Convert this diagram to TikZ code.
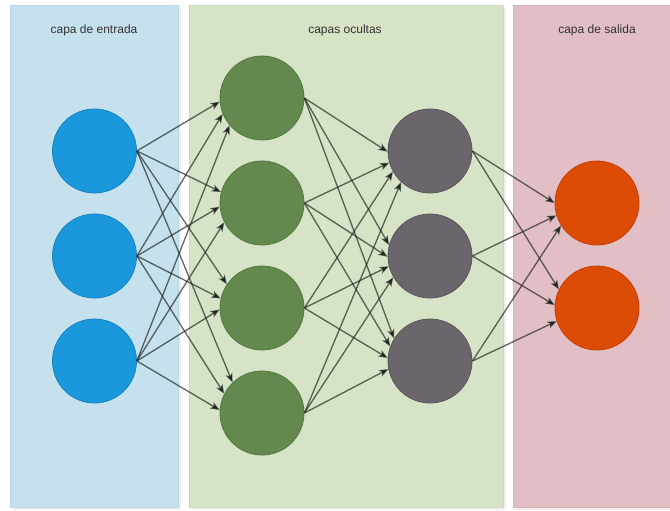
\documentclass[tikz,border=0pt]{standalone}
\usepackage{fontspec}
\setmainfont{Liberation Sans}
\usetikzlibrary{arrows.meta}
\definecolor{bluebg}{RGB}{198,225,238}
\definecolor{bluebd}{RGB}{185,214,230}
\definecolor{greenbg}{RGB}{214,227,199}
\definecolor{greenbd}{RGB}{200,218,185}
\definecolor{pinkbg}{RGB}{225,191,197}
\definecolor{pinkbd}{RGB}{214,178,185}
\definecolor{inblue}{RGB}{27,152,219}
\definecolor{inbluebd}{RGB}{22,132,192}
\definecolor{hgreen}{RGB}{99,137,78}
\definecolor{hgreenbd}{RGB}{84,120,64}
\definecolor{hgray}{RGB}{107,102,107}
\definecolor{hgraybd}{RGB}{90,86,90}
\definecolor{outor}{RGB}{221,76,5}
\definecolor{outorbd}{RGB}{196,62,8}
\definecolor{edgecol}{RGB}{30,36,30}
\definecolor{txt}{RGB}{51,51,51}
\begin{document}
\begin{tikzpicture}[x=0.75pt,y=-0.75pt,
  panel/.style={line width=0.6pt},
  neuron/.style={circle,minimum size=63pt,inner sep=0pt,line width=0.6pt},
  inneuron/.style={neuron,fill=inblue,draw=inbluebd},
  h1neuron/.style={neuron,fill=hgreen,draw=hgreenbd},
  h2neuron/.style={neuron,fill=hgray,draw=hgraybd},
  outneuron/.style={neuron,fill=outor,draw=outorbd},
  edge/.style={draw=edgecol,draw opacity=0.68,line width=1pt,
    -{Stealth[length=7pt,width=5.5pt,inset=1.8pt,fill=edgecol]}},
  title/.style={font=\fontsize{9pt}{10pt}\selectfont,text=txt}]
\useasboundingbox (0,0) rectangle (670,510);
\fill[white] (0,0) rectangle (670,510);
% shadows
\fill[black,opacity=0.06] (12,7) rectangle (181,510);
\fill[black,opacity=0.06] (191,7) rectangle (506,510);
\fill[black,opacity=0.06] (515,7) rectangle (670,510);
% panels
\filldraw[panel,fill=bluebg,draw=bluebd] (10,5) rectangle (178.5,507);
\filldraw[panel,fill=greenbg,draw=greenbd] (189,5) rectangle (503,507);
\filldraw[panel,fill=pinkbg,draw=pinkbd] (513,5) rectangle (672,507);
% titles
\node[title] (t1) at (94,30) {capa de entrada};
\node[title] (t2) at (345,30) {capas ocultas};
\node[title] (t3) at (597,30) {capa de salida};
% neurons
\node[inneuron] (i1) at (94.5,151) {};
\node[inneuron] (i2) at (94.5,256) {};
\node[inneuron] (i3) at (94.5,361) {};
\node[h1neuron] (h1) at (262,98) {};
\node[h1neuron] (h2) at (262,203) {};
\node[h1neuron] (h3) at (262,308) {};
\node[h1neuron] (h4) at (262,413) {};
\node[h2neuron] (g1) at (430,151) {};
\node[h2neuron] (g2) at (430,256) {};
\node[h2neuron] (g3) at (430,361) {};
\node[outneuron] (o1) at (597,203) {};
\node[outneuron] (o2) at (597,308) {};
% input -> hidden 1
\draw[edge] (i1.east) -- (h1.185);
\draw[edge] (i2.east) -- (h1.202);
\draw[edge] (i3.east) -- (h1.220);
\draw[edge] (i1.east) -- (h2.165);
\draw[edge] (i2.east) -- (h2.185);
\draw[edge] (i3.east) -- (h2.207);
\draw[edge] (i1.east) -- (h3.146);
\draw[edge] (i2.east) -- (h3.167);
\draw[edge] (i3.east) -- (h3.182);
\draw[edge] (i1.east) -- (h4.134);
\draw[edge] (i2.east) -- (h4.153);
\draw[edge] (i3.east) -- (h4.176);
% hidden 1 -> hidden 2
\draw[edge] (h1.east) -- (g1.181);
\draw[edge] (h2.east) -- (g1.196);
\draw[edge] (h3.east) -- (g1.209);
\draw[edge] (h4.east) -- (g1.227);
\draw[edge] (h1.east) -- (g2.165);
\draw[edge] (h2.east) -- (g2.181);
\draw[edge] (h3.east) -- (g2.194);
\draw[edge] (h4.east) -- (g2.210);
\draw[edge] (h1.east) -- (g3.148);
\draw[edge] (h2.east) -- (g3.160);
\draw[edge] (h3.east) -- (g3.176);
\draw[edge] (h4.east) -- (g3.191);
% hidden 2 -> output
\draw[edge] (g1.east) -- (o1.180);
\draw[edge] (g2.east) -- (o1.197);
\draw[edge] (g3.east) -- (o1.212);
\draw[edge] (g1.east) -- (o2.154);
\draw[edge] (g2.east) -- (o2.176);
\draw[edge] (g3.east) -- (o2.198);
\end{tikzpicture}
\end{document}
